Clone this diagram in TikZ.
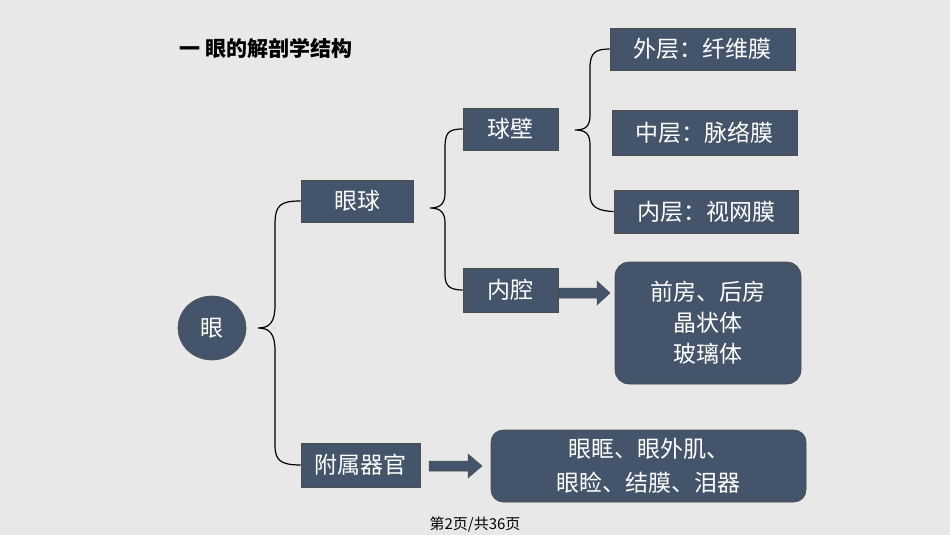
\documentclass[tikz,border=0pt]{standalone}
\usepackage{fontspec}
\setmainfont{Noto Sans CJK SC}
\usetikzlibrary{shapes.geometric}
\definecolor{bg}{HTML}{E8E8E8}
\definecolor{bx}{HTML}{44546A}
\begin{document}
\begin{tikzpicture}[x=1pt,y=-1pt,
  bxs/.style={fill=bx,draw=black!70,line width=0.6pt,text=white,font=\fontsize{23}{27}\selectfont,inner sep=0pt},
  br/.style={draw=black,line width=1.2pt},
  arrs/.style={fill=bx,draw=black!70,line width=0.5pt}]
\fill[bg] (0,0) rectangle (950,535);
\useasboundingbox (0,0) rectangle (950,535);
\node[font=\bfseries\fontsize{21}{25}\selectfont,anchor=west] (title) at (176,48) {一 眼的解剖学结构};
\node[bxs,ellipse,minimum width=68pt,minimum height=64pt] (eye) at (212,328) {眼};
\node[bxs,minimum width=112pt,minimum height=42pt] (yq) at (357,201) {眼球};
\node[bxs,minimum width=95pt,minimum height=42pt] (qb) at (510.5,129) {球壁};
\node[bxs,minimum width=95pt,minimum height=44pt] (nq) at (510.5,290) {内腔};
\node[bxs,minimum width=119pt,minimum height=44pt] (fs) at (360.5,465) {附属器官};
\node[bxs,minimum width=185pt,minimum height=42pt] (wc) at (702.5,49) {外层：纤维膜};
\node[bxs,minimum width=185pt,minimum height=45pt] (zc) at (704.5,132.5) {中层：脉络膜};
\node[bxs,minimum width=184pt,minimum height=43pt] (nc) at (706,211.5) {内层：视网膜};
\node[bxs,rounded corners=14pt,minimum width=186pt,minimum height=122pt,align=center,font=\fontsize{23}{31}\selectfont] (qf) at (708,323) {前房、后房\\晶状体\\玻璃体};
\node[bxs,rounded corners=12pt,minimum width=315pt,minimum height=72pt,align=center,font=\fontsize{23}{34}\selectfont] (ykj) at (648.5,466) {眼眶、眼外肌、\\眼睑、结膜、泪器};
\coordinate (a1) at (559,293);
\coordinate (a2) at (429,466);
\draw[arrs] (a1) ++(0,-5) -- ++(38,0) -- ++(0,-7) -- ++(13,12) -- ++(-13,12) -- ++(0,-7) -- ++(-38,0) -- cycle;
\draw[arrs] (a2) ++(0,-5) -- ++(39,0) -- ++(0,-7) -- ++(14,12) -- ++(-14,12) -- ++(0,-7) -- ++(-39,0) -- cycle;
% braces
\draw[br] (yq.west) .. controls (280,201) and (275,205) .. (275,225) -- (275,305) .. controls (275,322) and (270,328) .. (258,328)
  .. controls (270,328) and (275,334) .. (275,351) -- (275,445) .. controls (275,460) and (280,465) .. (fs.west);
\draw[br] (qb.west) .. controls (448,129) and (445,133) .. (445,148) -- (445,193) .. controls (445,204) and (440,208) .. (430,208)
  .. controls (440,208) and (445,212) .. (445,223) -- (445,275) .. controls (445,286) and (450,290) .. (nq.west);
\draw[br] (wc.west) .. controls (595,49) and (590,53) .. (590,68) -- (590,115) .. controls (590,126) and (586,130) .. (575,130)
  .. controls (586,130) and (590,134) .. (590,145) -- (590,195) .. controls (590,207) and (598,211) .. (nc.west);
\node[font=\fontsize{15}{17}\selectfont] (ft) at (475,524) {第2页/共36页};
\end{tikzpicture}
\end{document}
